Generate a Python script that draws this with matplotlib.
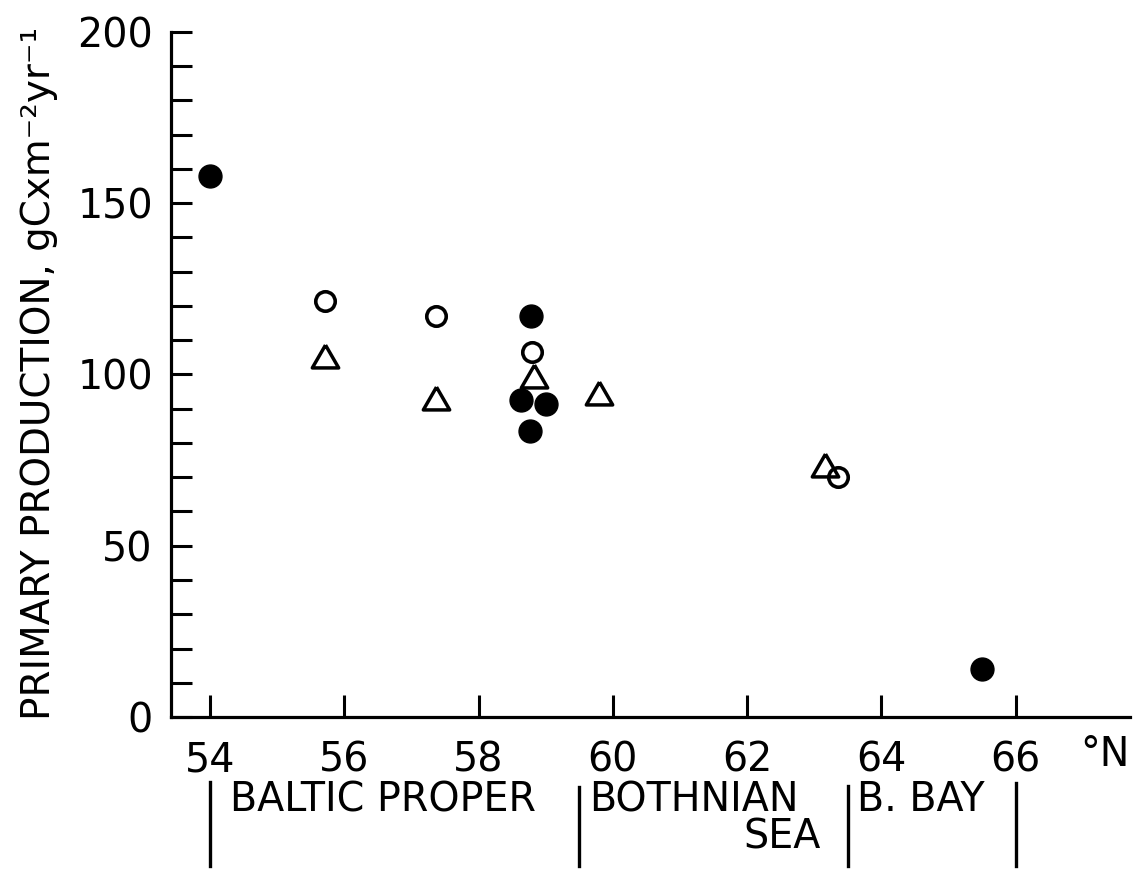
import matplotlib
matplotlib.use('Agg')
import matplotlib.pyplot as plt
import matplotlib.transforms as mtransforms

plt.rcParams['font.family'] = ['DejaVu Sans']

# 纬度 (°N) 与初级生产力 (gC m^-2 yr^-1)
filled_lat = [54.0, 58.78, 58.63, 59.0, 58.77, 65.5]
filled_prod = [158, 117, 92.5, 91.5, 83.5, 14]

open_lat = [55.71, 57.37, 58.80, 63.35]
open_prod = [121.5, 117, 106.5, 70]

tri_lat = [55.72, 57.37, 58.83, 59.8, 63.16]
tri_prod = [105.5, 93, 99.5, 94.5, 73.5]

xticks = [54, 56, 58, 60, 62, 64, 66]
yticks = [0, 50, 100, 150, 200]

# 海区分界与名称
region_bounds = [54, 59.5, 63.5, 66]
region_names = ['BALTIC PROPER', 'BOTHNIAN', 'B. BAY']

FS = 28.5

fig = plt.figure(figsize=(11.33, 8.71), dpi=100)
ax = fig.add_axes([0.1509, 0.1768, 0.8464, 0.7865])

tri = [(0, 0.433), (-0.5, -0.433), (0.5, -0.433), (0, 0.433)]

ax.plot(filled_lat, filled_prod, 'o', color='black', ms=16.5, clip_on=False)
ax.plot(open_lat, open_prod, 'o', mfc='white', mec='black', ms=14, mew=2.6, clip_on=False)
ax.plot(tri_lat, tri_prod, linestyle='none', marker=tri, mfc='none', mec='black',
        ms=19, mew=2.5, clip_on=False)

ax.set_xlim(53.42, 67.7)
ax.set_ylim(0, 200)

for s in ['top', 'right']:
    ax.spines[s].set_visible(False)
for s in ['left', 'bottom']:
    ax.spines[s].set_linewidth(2.3)

ax.set_xticks(xticks)
ax.set_yticks(yticks)
ax.set_yticks(range(0, 201, 10), minor=True)
ax.tick_params(axis='y', which='both', direction='in', length=15, width=2.2, pad=13, labelsize=FS)
ax.tick_params(axis='x', which='both', direction='in', length=16, width=2.2, pad=17, labelsize=FS)

fig.text(0.034, 0.1734, 'PRIMARY PRODUCTION, gCxm⁻²yr⁻¹', rotation=90,
         ha='center', va='bottom', fontsize=28)
fig.text(0.975, 0.133, '°N', ha='center', va='center', fontsize=FS)

# 图下方的海区标注
trans = mtransforms.blended_transform_factory(ax.transData, fig.transFigure)
bar_tops = [0.102, 0.096, 0.098, 0.101]
for b, top in zip(region_bounds, bar_tops):
    ax.plot([b, b], [top, 0.006], color='black', lw=2.4, transform=trans, clip_on=False)
for b, off, name in zip(region_bounds[:3], [0.3, 0.15, 0.14], region_names):
    ax.text(b + off, 0.0815, name, transform=trans, ha='left', va='center', fontsize=FS)
ax.text(63.1, 0.038, 'SEA', transform=trans, ha='right', va='center', fontsize=FS)

fig.savefig('out.png', dpi=100)
